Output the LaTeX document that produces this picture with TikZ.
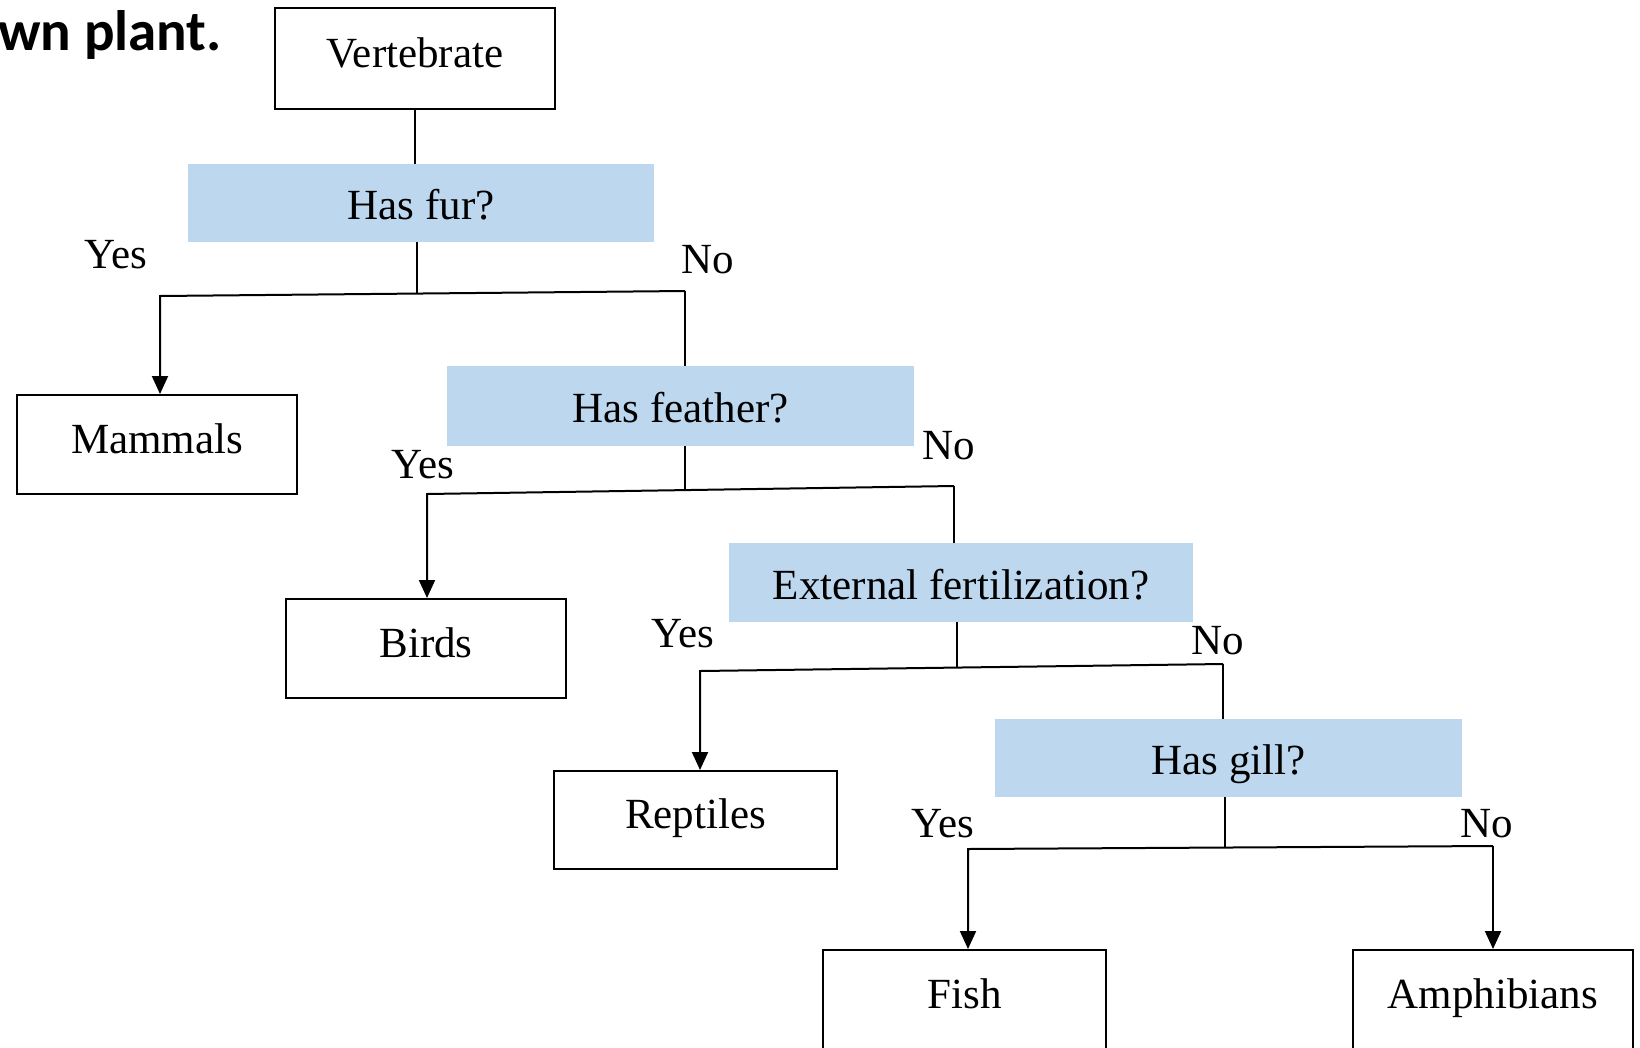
\documentclass[tikz,border=0pt]{standalone}
\usepackage{fontspec}
\setmainfont{Liberation Serif}
\newfontfamily\titlefont{Carlito}
\usetikzlibrary{arrows.meta}
\definecolor{qblue}{HTML}{BDD7EE}
\begin{document}
\begin{tikzpicture}[x=1pt,y=-1pt,
  txt/.style={font=\fontsize{43}{48}\selectfont},
  leafbox/.style={txt, draw=black, line width=2pt, inner sep=0pt, text height=28pt, text depth=11pt},
  askbox/.style={txt, fill=qblue, inner sep=0pt, text height=36pt, text depth=3pt},
  ans/.style={txt, inner sep=0pt, anchor=base},
  link/.style={line width=2pt, draw=black},
  arr/.style={link, -{Triangle[length=18pt,width=16pt]}}]
\useasboundingbox (0,0) rectangle (1640,1047);
\clip (0,0) rectangle (1640,1047);

% title fragment
\node[font=\titlefont\bfseries\fontsize{57}{62}\selectfont, anchor=base east, inner sep=0pt] (title) at (222,50) {wn plant.};

% boxes
\node[leafbox, minimum width=280pt, minimum height=101pt] (vert) at (415,58.5) {Vertebrate};
\node[askbox, minimum width=466pt, minimum height=78pt] (fur) at (421,203) {Has fur?};
\node[leafbox, minimum width=280pt, minimum height=99pt] (mam) at (157,444.5) {Mammals};
\node[askbox, minimum width=467pt, minimum height=80pt] (feat) at (680.5,406) {Has feather?};
\node[leafbox, minimum width=280pt, minimum height=99pt] (bird) at (426,648.5) {Birds};
\node[askbox, minimum width=464pt, minimum height=79pt] (ext) at (961,582.5) {External fertilization?};
\node[leafbox, minimum width=283pt, minimum height=98pt] (rep) at (695.5,820) {Reptiles};
\node[askbox, minimum width=467pt, minimum height=78pt] (gill) at (1228.5,758) {Has gill?};
\node[leafbox, minimum width=283pt, minimum height=100pt] (fish) at (964.5,1000) {Fish};
\node[leafbox, minimum width=280pt, minimum height=100pt] (amph) at (1493,1000) {Amphibians};

% answer labels
\node[ans] (y1) at (116,268) {Yes};
\node[ans] (n1) at (708,273) {No};
\node[ans] (y2) at (423,478) {Yes};
\node[ans] (n2) at (949,459) {No};
\node[ans] (y3) at (683,647) {Yes};
\node[ans] (n3) at (1218,654) {No};
\node[ans] (y4) at (943,837) {Yes};
\node[ans] (n4) at (1487,837) {No};

% connectors
\draw[link] (vert.south) -- (vert.south |- fur.north);

\coordinate (l1) at (160,296); \coordinate (r1) at (685,291); \coordinate (j1) at (417,293.6);
\draw[link] (fur.south -| j1) -- (j1);
\draw[arr] (r1) -- (l1) -- (l1 |- mam.north);
\draw[link] (r1) -- (r1 |- feat.north);

\coordinate (l2) at (427,494); \coordinate (r2) at (954,486); \coordinate (j2) at (685,490.1);
\draw[link] (feat.south -| j2) -- (j2);
\draw[arr] (r2) -- (l2) -- (l2 |- bird.north);
\draw[link] (r2) -- (r2 |- ext.north);

\coordinate (l3) at (700,671); \coordinate (r3) at (1223,664); \coordinate (j3) at (957,667.6);
\draw[link] (ext.south -| j3) -- (j3);
\draw[arr] (r3) -- (l3) -- (l3 |- rep.north);
\draw[link] (r3) -- (r3 |- gill.north);

\coordinate (l4) at (968,849); \coordinate (r4) at (1493,846); \coordinate (j4) at (1225,847.5);
\draw[link] (gill.south -| j4) -- (j4);
\draw[arr] (r4) -- (l4) -- (l4 |- fish.north);
\draw[arr] (r4) -- (r4 |- amph.north);
\end{tikzpicture}
\end{document}
